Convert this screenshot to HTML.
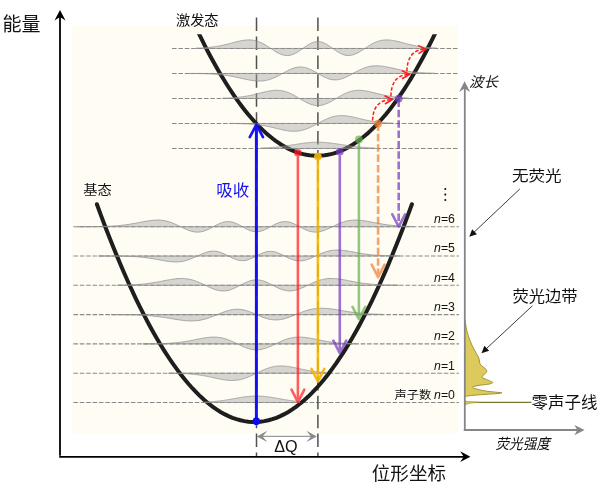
<!DOCTYPE html>
<html><head><meta charset="utf-8"><style>
html,body{margin:0;padding:0;background:#fff;}
body{width:605px;height:489px;overflow:hidden;}
svg{display:block;will-change:transform;}
</style></head><body>
<svg width="605" height="489" viewBox="0 0 605 489">
<rect x="72" y="25.5" width="386.2" height="408.3" fill="#fefcf3"/>
<line x1="73.4" y1="402.5" x2="459" y2="402.5" stroke="#8a8a8a" stroke-width="1.1" stroke-dasharray="4.6 1.785" fill="none"/>
<line x1="73.4" y1="373.2" x2="459" y2="373.2" stroke="#8a8a8a" stroke-width="1.1" stroke-dasharray="4.6 1.785" fill="none"/>
<line x1="73.4" y1="343.9" x2="459" y2="343.9" stroke="#8a8a8a" stroke-width="1.1" stroke-dasharray="4.6 1.785" fill="none"/>
<line x1="73.4" y1="314.6" x2="459" y2="314.6" stroke="#8a8a8a" stroke-width="1.1" stroke-dasharray="4.6 1.785" fill="none"/>
<line x1="73.4" y1="285.3" x2="459" y2="285.3" stroke="#8a8a8a" stroke-width="1.1" stroke-dasharray="4.6 1.785" fill="none"/>
<line x1="73.4" y1="256" x2="459" y2="256" stroke="#8a8a8a" stroke-width="1.1" stroke-dasharray="4.6 1.785" fill="none"/>
<line x1="73.4" y1="226.7" x2="459" y2="226.7" stroke="#8a8a8a" stroke-width="1.1" stroke-dasharray="4.6 1.785" fill="none"/>
<line x1="172" y1="148.45" x2="459" y2="148.45" stroke="#8a8a8a" stroke-width="1.1" stroke-dasharray="4.6 1.785" fill="none"/>
<line x1="172" y1="123.45" x2="459" y2="123.45" stroke="#8a8a8a" stroke-width="1.1" stroke-dasharray="4.6 1.785" fill="none"/>
<line x1="172" y1="98.45" x2="459" y2="98.45" stroke="#8a8a8a" stroke-width="1.1" stroke-dasharray="4.6 1.785" fill="none"/>
<line x1="172" y1="73.45" x2="459" y2="73.45" stroke="#8a8a8a" stroke-width="1.1" stroke-dasharray="4.6 1.785" fill="none"/>
<line x1="172" y1="48.45" x2="459" y2="48.45" stroke="#8a8a8a" stroke-width="1.1" stroke-dasharray="4.6 1.785" fill="none"/>
<line x1="256.5" y1="17.6" x2="256.5" y2="456" stroke="#505050" stroke-width="1.5" stroke-dasharray="13.5 5.41" fill="none"/>
<line x1="317.9" y1="17.6" x2="317.9" y2="456" stroke="#505050" stroke-width="1.5" stroke-dasharray="13.5 5.41" fill="none"/>
<defs><clipPath id="ce"><rect x="0" y="34.2" width="605" height="400"/></clipPath></defs>
<path d="M196,27.54 L199.06,33.96 L202.13,40.2 L205.19,46.29 L208.25,52.21 L211.32,57.96 L214.38,63.55 L217.44,68.97 L220.51,74.24 L223.57,79.33 L226.63,84.26 L229.7,89.03 L232.76,93.63 L235.82,98.07 L238.89,102.35 L241.95,106.46 L245.01,110.4 L248.08,114.19 L251.14,117.8 L254.2,121.25 L257.27,124.54 L260.33,127.67 L263.39,130.63 L266.46,133.42 L269.52,136.05 L272.58,138.52 L275.65,140.82 L278.71,142.96 L281.77,144.93 L284.84,146.74 L287.9,148.38 L290.96,149.86 L294.03,151.18 L297.09,152.33 L300.15,153.31 L303.22,154.14 L306.28,154.79 L309.34,155.29 L312.41,155.62 L315.47,155.78 L318.53,155.78 L321.59,155.62 L324.66,155.29 L327.72,154.79 L330.78,154.14 L333.85,153.31 L336.91,152.33 L339.97,151.18 L343.04,149.86 L346.1,148.38 L349.16,146.74 L352.23,144.93 L355.29,142.96 L358.35,140.82 L361.42,138.52 L364.48,136.05 L367.54,133.42 L370.61,130.63 L373.67,127.67 L376.73,124.54 L379.8,121.25 L382.86,117.8 L385.92,114.19 L388.99,110.4 L392.05,106.46 L395.11,102.35 L398.18,98.07 L401.24,93.63 L404.3,89.03 L407.37,84.26 L410.43,79.33 L413.49,74.24 L416.56,68.97 L419.62,63.55 L422.68,57.96 L425.75,52.21 L428.81,46.29 L431.87,40.2 L434.94,33.96 L438,27.54" stroke="#1e1e1e" stroke-width="4" fill="none" clip-path="url(#ce)"/>
<path d="M96.9,204.2 L100.89,215.09 L104.87,225.7 L108.86,236.03 L112.85,246.08 L116.84,255.85 L120.82,265.34 L124.81,274.56 L128.8,283.49 L132.79,292.14 L136.77,300.52 L140.76,308.62 L144.75,316.43 L148.74,323.97 L152.72,331.23 L156.71,338.21 L160.7,344.91 L164.68,351.33 L168.67,357.47 L172.66,363.34 L176.65,368.92 L180.63,374.22 L184.62,379.25 L188.61,384 L192.6,388.46 L196.58,392.65 L200.57,396.56 L204.56,400.19 L208.55,403.54 L212.53,406.61 L216.52,409.4 L220.51,411.91 L224.49,414.15 L228.48,416.1 L232.47,417.78 L236.46,419.17 L240.44,420.29 L244.43,421.13 L248.42,421.69 L252.41,421.97 L256.39,421.97 L260.38,421.69 L264.37,421.13 L268.36,420.29 L272.34,419.17 L276.33,417.78 L280.32,416.1 L284.31,414.15 L288.29,411.91 L292.28,409.4 L296.27,406.61 L300.25,403.54 L304.24,400.19 L308.23,396.56 L312.22,392.65 L316.2,388.46 L320.19,384 L324.18,379.25 L328.17,374.22 L332.15,368.92 L336.14,363.34 L340.13,357.47 L344.12,351.33 L348.1,344.91 L352.09,338.21 L356.08,331.23 L360.06,323.97 L364.05,316.43 L368.04,308.62 L372.03,300.52 L376.01,292.14 L380,283.49 L383.99,274.56 L387.98,265.34 L391.96,255.85 L395.95,246.08 L399.94,236.03 L403.93,225.7 L407.91,215.09 L411.9,204.2" stroke="#1e1e1e" stroke-width="4" fill="none" stroke-linecap="round"/>
<path d="M204,402.12 L204.37,402.11 L204.74,402.09 L205.11,402.08 L205.48,402.06 L205.85,402.04 L206.22,402.02 L206.59,402 L206.96,401.99 L207.33,401.97 L207.7,401.95 L208.07,401.92 L208.44,401.9 L208.81,401.88 L209.18,401.86 L209.55,401.83 L209.92,401.81 L210.29,401.78 L210.66,401.76 L211.03,401.73 L211.4,401.71 L211.77,401.68 L212.14,401.65 L212.51,401.62 L212.88,401.59 L213.25,401.56 L213.62,401.53 L213.99,401.5 L214.36,401.46 L214.73,401.43 L215.1,401.39 L215.47,401.36 L215.84,401.32 L216.21,401.29 L216.58,401.25 L216.95,401.21 L217.32,401.17 L217.69,401.13 L218.06,401.09 L218.43,401.05 L218.8,401 L219.17,400.96 L219.54,400.92 L219.91,400.87 L220.27,400.83 L220.64,400.78 L221.01,400.73 L221.38,400.68 L221.75,400.63 L222.12,400.58 L222.49,400.53 L222.86,400.48 L223.23,400.43 L223.6,400.38 L223.97,400.32 L224.34,400.27 L224.71,400.21 L225.08,400.16 L225.45,400.1 L225.82,400.04 L226.19,399.98 L226.56,399.93 L226.93,399.87 L227.3,399.81 L227.67,399.75 L228.04,399.69 L228.41,399.62 L228.78,399.56 L229.15,399.5 L229.52,399.44 L229.89,399.37 L230.26,399.31 L230.63,399.25 L231,399.18 L231.37,399.12 L231.74,399.05 L232.11,398.99 L232.48,398.92 L232.85,398.85 L233.22,398.79 L233.59,398.72 L233.96,398.66 L234.33,398.59 L234.7,398.52 L235.07,398.46 L235.44,398.39 L235.81,398.32 L236.18,398.26 L236.55,398.19 L236.92,398.13 L237.29,398.06 L237.66,398 L238.03,397.93 L238.4,397.87 L238.77,397.8 L239.14,397.74 L239.51,397.68 L239.88,397.62 L240.25,397.55 L240.62,397.49 L240.99,397.43 L241.36,397.37 L241.73,397.31 L242.1,397.26 L242.47,397.2 L242.84,397.14 L243.21,397.09 L243.58,397.03 L243.95,396.98 L244.32,396.93 L244.69,396.87 L245.06,396.82 L245.43,396.78 L245.8,396.73 L246.17,396.68 L246.54,396.64 L246.91,396.59 L247.28,396.55 L247.65,396.51 L248.02,396.47 L248.39,396.43 L248.76,396.39 L249.13,396.36 L249.5,396.32 L249.87,396.29 L250.24,396.26 L250.61,396.23 L250.98,396.2 L251.35,396.18 L251.72,396.15 L252.08,396.13 L252.45,396.11 L252.82,396.09 L253.19,396.08 L253.56,396.06 L253.93,396.05 L254.3,396.04 L254.67,396.03 L255.04,396.02 L255.41,396.01 L255.78,396.01 L256.15,396 L256.52,396 L256.89,396 L257.26,396.01 L257.63,396.01 L258,396.02 L258.37,396.03 L258.74,396.04 L259.11,396.05 L259.48,396.06 L259.85,396.08 L260.22,396.1 L260.59,396.11 L260.96,396.14 L261.33,396.16 L261.7,396.18 L262.07,396.21 L262.44,396.24 L262.81,396.26 L263.18,396.3 L263.55,396.33 L263.92,396.36 L264.29,396.4 L264.66,396.43 L265.03,396.47 L265.4,396.51 L265.77,396.55 L266.14,396.6 L266.51,396.64 L266.88,396.69 L267.25,396.73 L267.62,396.78 L267.99,396.83 L268.36,396.88 L268.73,396.93 L269.1,396.99 L269.47,397.04 L269.84,397.09 L270.21,397.15 L270.58,397.21 L270.95,397.26 L271.32,397.32 L271.69,397.38 L272.06,397.44 L272.43,397.5 L272.8,397.56 L273.17,397.62 L273.54,397.69 L273.91,397.75 L274.28,397.81 L274.65,397.88 L275.02,397.94 L275.39,398.01 L275.76,398.07 L276.13,398.14 L276.5,398.2 L276.87,398.27 L277.24,398.33 L277.61,398.4 L277.98,398.47 L278.35,398.53 L278.72,398.6 L279.09,398.66 L279.46,398.73 L279.83,398.8 L280.2,398.86 L280.57,398.93 L280.94,398.99 L281.31,399.06 L281.68,399.12 L282.05,399.19 L282.42,399.25 L282.79,399.32 L283.16,399.38 L283.53,399.44 L283.89,399.51 L284.26,399.57 L284.63,399.63 L285,399.69 L285.37,399.75 L285.74,399.81 L286.11,399.87 L286.48,399.93 L286.85,399.99 L287.22,400.05 L287.59,400.11 L287.96,400.16 L288.33,400.22 L288.7,400.27 L289.07,400.33 L289.44,400.38 L289.81,400.44 L290.18,400.49 L290.55,400.54 L290.92,400.59 L291.29,400.64 L291.66,400.69 L292.03,400.74 L292.4,400.78 L292.77,400.83 L293.14,400.88 L293.51,400.92 L293.88,400.97 L294.25,401.01 L294.62,401.05 L294.99,401.09 L295.36,401.13 L295.73,401.18 L296.1,401.21 L296.47,401.25 L296.84,401.29 L297.21,401.33 L297.58,401.36 L297.95,401.4 L298.32,401.43 L298.69,401.47 L299.06,401.5 L299.43,401.53 L299.8,401.56 L299.8,402.5 L204,402.5 Z" fill="#a0a0a0" fill-opacity="0.42" stroke="#8c8c8c" stroke-opacity="0.8" stroke-width="0.9"/>
<path d="M168.5,373.27 L169.11,373.27 L169.72,373.28 L170.33,373.29 L170.94,373.29 L171.56,373.3 L172.17,373.31 L172.78,373.32 L173.39,373.33 L174,373.34 L174.61,373.35 L175.22,373.36 L175.83,373.37 L176.45,373.39 L177.06,373.4 L177.67,373.42 L178.28,373.43 L178.89,373.45 L179.5,373.47 L180.11,373.49 L180.72,373.51 L181.34,373.53 L181.95,373.56 L182.56,373.58 L183.17,373.61 L183.78,373.64 L184.39,373.66 L185,373.7 L185.61,373.73 L186.22,373.76 L186.84,373.8 L187.45,373.84 L188.06,373.88 L188.67,373.92 L189.28,373.96 L189.89,374.01 L190.5,374.06 L191.11,374.11 L191.73,374.16 L192.34,374.22 L192.95,374.28 L193.56,374.34 L194.17,374.4 L194.78,374.47 L195.39,374.53 L196,374.61 L196.62,374.68 L197.23,374.76 L197.84,374.84 L198.45,374.92 L199.06,375 L199.67,375.09 L200.28,375.18 L200.89,375.27 L201.5,375.37 L202.12,375.47 L202.73,375.57 L203.34,375.67 L203.95,375.78 L204.56,375.89 L205.17,376 L205.78,376.12 L206.39,376.23 L207.01,376.35 L207.62,376.47 L208.23,376.6 L208.84,376.72 L209.45,376.85 L210.06,376.97 L210.67,377.1 L211.28,377.23 L211.89,377.37 L212.51,377.5 L213.12,377.63 L213.73,377.77 L214.34,377.9 L214.95,378.03 L215.56,378.17 L216.17,378.3 L216.78,378.43 L217.4,378.56 L218.01,378.69 L218.62,378.82 L219.23,378.94 L219.84,379.06 L220.45,379.18 L221.06,379.3 L221.67,379.41 L222.29,379.52 L222.9,379.63 L223.51,379.73 L224.12,379.82 L224.73,379.91 L225.34,380 L225.95,380.08 L226.56,380.15 L227.17,380.22 L227.79,380.28 L228.4,380.33 L229.01,380.38 L229.62,380.41 L230.23,380.44 L230.84,380.46 L231.45,380.48 L232.06,380.48 L232.68,380.47 L233.29,380.46 L233.9,380.44 L234.51,380.4 L235.12,380.36 L235.73,380.3 L236.34,380.24 L236.95,380.17 L237.57,380.08 L238.18,379.99 L238.79,379.88 L239.4,379.77 L240.01,379.64 L240.62,379.51 L241.23,379.36 L241.84,379.2 L242.45,379.04 L243.07,378.86 L243.68,378.68 L244.29,378.48 L244.9,378.28 L245.51,378.07 L246.12,377.85 L246.73,377.62 L247.34,377.38 L247.96,377.14 L248.57,376.89 L249.18,376.63 L249.79,376.37 L250.4,376.1 L251.01,375.82 L251.62,375.54 L252.23,375.26 L252.85,374.97 L253.46,374.68 L254.07,374.39 L254.68,374.09 L255.29,373.79 L255.9,373.49 L256.51,373.19 L257.12,372.89 L257.73,372.6 L258.35,372.3 L258.96,372 L259.57,371.71 L260.18,371.42 L260.79,371.13 L261.4,370.85 L262.01,370.57 L262.62,370.29 L263.24,370.02 L263.85,369.76 L264.46,369.5 L265.07,369.25 L265.68,369.01 L266.29,368.77 L266.9,368.54 L267.51,368.32 L268.13,368.11 L268.74,367.91 L269.35,367.71 L269.96,367.53 L270.57,367.35 L271.18,367.19 L271.79,367.03 L272.4,366.89 L273.01,366.75 L273.63,366.63 L274.24,366.51 L274.85,366.41 L275.46,366.31 L276.07,366.23 L276.68,366.16 L277.29,366.09 L277.9,366.04 L278.52,366 L279.13,365.96 L279.74,365.94 L280.35,365.92 L280.96,365.92 L281.57,365.92 L282.18,365.94 L282.79,365.96 L283.41,365.99 L284.02,366.02 L284.63,366.07 L285.24,366.12 L285.85,366.18 L286.46,366.25 L287.07,366.32 L287.68,366.4 L288.29,366.49 L288.91,366.58 L289.52,366.68 L290.13,366.78 L290.74,366.88 L291.35,366.99 L291.96,367.11 L292.57,367.22 L293.18,367.34 L293.8,367.46 L294.41,367.59 L295.02,367.72 L295.63,367.85 L296.24,367.98 L296.85,368.11 L297.46,368.24 L298.07,368.37 L298.68,368.51 L299.3,368.64 L299.91,368.77 L300.52,368.91 L301.13,369.04 L301.74,369.17 L302.35,369.3 L302.96,369.43 L303.57,369.56 L304.19,369.69 L304.8,369.81 L305.41,369.93 L306.02,370.05 L306.63,370.17 L307.24,370.29 L307.85,370.4 L308.46,370.51 L309.08,370.62 L309.69,370.73 L310.3,370.83 L310.91,370.94 L311.52,371.03 L312.13,371.13 L312.74,371.22 L313.35,371.31 L313.96,371.4 L314.58,371.49 L315.19,371.57 L315.8,371.65 L316.41,371.72 L317.02,371.8 L317.63,371.87 L318.24,371.94 L318.85,372 L319.47,372.07 L320.08,372.13 L320.69,372.18 L321.3,372.24 L321.91,372.29 L322.52,372.34 L323.13,372.39 L323.74,372.44 L324.36,372.48 L324.97,372.52 L325.58,372.56 L326.19,372.6 L326.8,372.64 L326.8,373.2 L168.5,373.2 Z" fill="#a0a0a0" fill-opacity="0.42" stroke="#8c8c8c" stroke-opacity="0.8" stroke-width="0.9"/>
<path d="M142.8,343.87 L143.62,343.87 L144.44,343.86 L145.26,343.86 L146.08,343.85 L146.91,343.85 L147.73,343.84 L148.55,343.84 L149.37,343.83 L150.19,343.82 L151.01,343.81 L151.83,343.81 L152.65,343.8 L153.48,343.78 L154.3,343.77 L155.12,343.76 L155.94,343.75 L156.76,343.73 L157.58,343.71 L158.4,343.69 L159.22,343.67 L160.05,343.65 L160.87,343.63 L161.69,343.6 L162.51,343.58 L163.33,343.55 L164.15,343.52 L164.97,343.48 L165.79,343.45 L166.62,343.41 L167.44,343.36 L168.26,343.32 L169.08,343.27 L169.9,343.22 L170.72,343.17 L171.54,343.11 L172.36,343.05 L173.19,342.98 L174.01,342.91 L174.83,342.84 L175.65,342.76 L176.47,342.68 L177.29,342.6 L178.11,342.51 L178.93,342.41 L179.76,342.31 L180.58,342.21 L181.4,342.1 L182.22,341.99 L183.04,341.87 L183.86,341.75 L184.68,341.62 L185.5,341.49 L186.33,341.36 L187.15,341.22 L187.97,341.08 L188.79,340.93 L189.61,340.78 L190.43,340.63 L191.25,340.47 L192.07,340.31 L192.9,340.15 L193.72,339.99 L194.54,339.83 L195.36,339.66 L196.18,339.49 L197,339.33 L197.82,339.16 L198.64,339 L199.47,338.84 L200.29,338.68 L201.11,338.52 L201.93,338.37 L202.75,338.22 L203.57,338.08 L204.39,337.94 L205.21,337.81 L206.04,337.69 L206.86,337.58 L207.68,337.48 L208.5,337.38 L209.32,337.3 L210.14,337.23 L210.96,337.17 L211.78,337.13 L212.61,337.1 L213.43,337.08 L214.25,337.09 L215.07,337.1 L215.89,337.13 L216.71,337.19 L217.53,337.25 L218.35,337.34 L219.17,337.44 L220,337.57 L220.82,337.71 L221.64,337.87 L222.46,338.05 L223.28,338.24 L224.1,338.46 L224.92,338.69 L225.74,338.94 L226.57,339.21 L227.39,339.49 L228.21,339.79 L229.03,340.11 L229.85,340.43 L230.67,340.78 L231.49,341.13 L232.31,341.49 L233.14,341.86 L233.96,342.25 L234.78,342.63 L235.6,343.03 L236.42,343.42 L237.24,343.82 L238.06,344.22 L238.88,344.61 L239.71,345.01 L240.53,345.4 L241.35,345.78 L242.17,346.16 L242.99,346.52 L243.81,346.87 L244.63,347.21 L245.45,347.54 L246.28,347.85 L247.1,348.14 L247.92,348.41 L248.74,348.66 L249.56,348.89 L250.38,349.1 L251.2,349.29 L252.02,349.44 L252.85,349.58 L253.67,349.69 L254.49,349.77 L255.31,349.82 L256.13,349.85 L256.95,349.84 L257.77,349.82 L258.59,349.76 L259.42,349.68 L260.24,349.57 L261.06,349.43 L261.88,349.27 L262.7,349.08 L263.52,348.87 L264.34,348.64 L265.16,348.39 L265.99,348.11 L266.81,347.82 L267.63,347.51 L268.45,347.18 L269.27,346.84 L270.09,346.48 L270.91,346.12 L271.73,345.74 L272.56,345.36 L273.38,344.97 L274.2,344.58 L275.02,344.18 L275.84,343.78 L276.66,343.38 L277.48,342.99 L278.3,342.59 L279.13,342.21 L279.95,341.83 L280.77,341.45 L281.59,341.09 L282.41,340.74 L283.23,340.4 L284.05,340.07 L284.87,339.76 L285.69,339.46 L286.52,339.18 L287.34,338.91 L288.16,338.67 L288.98,338.43 L289.8,338.22 L290.62,338.03 L291.44,337.85 L292.26,337.69 L293.09,337.55 L293.91,337.43 L294.73,337.33 L295.55,337.25 L296.37,337.18 L297.19,337.13 L298.01,337.1 L298.83,337.08 L299.66,337.09 L300.48,337.1 L301.3,337.13 L302.12,337.18 L302.94,337.24 L303.76,337.31 L304.58,337.39 L305.4,337.48 L306.23,337.59 L307.05,337.7 L307.87,337.82 L308.69,337.95 L309.51,338.09 L310.33,338.23 L311.15,338.38 L311.97,338.54 L312.8,338.69 L313.62,338.85 L314.44,339.02 L315.26,339.18 L316.08,339.35 L316.9,339.51 L317.72,339.68 L318.54,339.84 L319.37,340.01 L320.19,340.17 L321.01,340.33 L321.83,340.49 L322.65,340.64 L323.47,340.8 L324.29,340.95 L325.11,341.09 L325.94,341.24 L326.76,341.37 L327.58,341.51 L328.4,341.64 L329.22,341.76 L330.04,341.88 L330.86,342 L331.68,342.11 L332.51,342.22 L333.33,342.32 L334.15,342.42 L334.97,342.51 L335.79,342.6 L336.61,342.69 L337.43,342.77 L338.25,342.85 L339.08,342.92 L339.9,342.99 L340.72,343.05 L341.54,343.11 L342.36,343.17 L343.18,343.23 L344,343.28 L344.82,343.32 L345.65,343.37 L346.47,343.41 L347.29,343.45 L348.11,343.49 L348.93,343.52 L349.75,343.55 L350.57,343.58 L351.39,343.61 L352.22,343.63 L353.04,343.66 L353.86,343.68 L354.68,343.7 L355.5,343.71 L355.5,343.9 L142.8,343.9 Z" fill="#a0a0a0" fill-opacity="0.42" stroke="#8c8c8c" stroke-opacity="0.8" stroke-width="0.9"/>
<path d="M111,314.63 L112.05,314.63 L113.09,314.63 L114.14,314.64 L115.19,314.64 L116.24,314.65 L117.28,314.66 L118.33,314.66 L119.38,314.67 L120.43,314.68 L121.47,314.69 L122.52,314.7 L123.57,314.71 L124.62,314.72 L125.66,314.74 L126.71,314.75 L127.76,314.77 L128.81,314.79 L129.85,314.81 L130.9,314.83 L131.95,314.86 L133,314.88 L134.04,314.91 L135.09,314.94 L136.14,314.98 L137.19,315.01 L138.23,315.06 L139.28,315.1 L140.33,315.15 L141.38,315.2 L142.42,315.25 L143.47,315.31 L144.52,315.37 L145.57,315.44 L146.61,315.51 L147.66,315.59 L148.71,315.67 L149.76,315.75 L150.8,315.84 L151.85,315.94 L152.9,316.04 L153.95,316.15 L154.99,316.26 L156.04,316.38 L157.09,316.5 L158.14,316.63 L159.18,316.77 L160.23,316.9 L161.28,317.05 L162.33,317.2 L163.37,317.35 L164.42,317.51 L165.47,317.67 L166.52,317.84 L167.56,318.01 L168.61,318.18 L169.66,318.35 L170.71,318.53 L171.75,318.7 L172.8,318.88 L173.85,319.05 L174.9,319.23 L175.94,319.4 L176.99,319.57 L178.04,319.73 L179.09,319.89 L180.13,320.04 L181.18,320.18 L182.23,320.32 L183.28,320.44 L184.32,320.56 L185.37,320.66 L186.42,320.75 L187.47,320.82 L188.51,320.88 L189.56,320.92 L190.61,320.94 L191.66,320.95 L192.7,320.93 L193.75,320.9 L194.8,320.84 L195.85,320.76 L196.89,320.66 L197.94,320.54 L198.99,320.39 L200.04,320.22 L201.08,320.03 L202.13,319.81 L203.18,319.57 L204.23,319.31 L205.27,319.02 L206.32,318.72 L207.37,318.39 L208.42,318.05 L209.46,317.69 L210.51,317.31 L211.56,316.92 L212.61,316.51 L213.65,316.1 L214.7,315.67 L215.75,315.25 L216.8,314.81 L217.84,314.38 L218.89,313.94 L219.94,313.52 L220.99,313.09 L222.03,312.68 L223.08,312.28 L224.13,311.89 L225.18,311.52 L226.22,311.17 L227.27,310.85 L228.32,310.54 L229.37,310.27 L230.41,310.02 L231.46,309.81 L232.51,309.63 L233.56,309.48 L234.6,309.37 L235.65,309.29 L236.7,309.25 L237.75,309.25 L238.79,309.29 L239.84,309.37 L240.89,309.48 L241.94,309.63 L242.98,309.82 L244.03,310.04 L245.08,310.29 L246.13,310.58 L247.17,310.9 L248.22,311.24 L249.27,311.61 L250.32,312 L251.36,312.41 L252.41,312.84 L253.46,313.28 L254.51,313.73 L255.55,314.18 L256.6,314.64 L257.65,315.1 L258.7,315.56 L259.74,316.01 L260.79,316.44 L261.84,316.87 L262.89,317.28 L263.93,317.66 L264.98,318.03 L266.03,318.37 L267.08,318.68 L268.12,318.96 L269.17,319.21 L270.22,319.42 L271.27,319.6 L272.31,319.74 L273.36,319.85 L274.41,319.92 L275.46,319.95 L276.5,319.94 L277.55,319.9 L278.6,319.81 L279.65,319.69 L280.69,319.54 L281.74,319.35 L282.79,319.13 L283.84,318.88 L284.88,318.6 L285.93,318.29 L286.98,317.96 L288.03,317.61 L289.07,317.23 L290.12,316.84 L291.17,316.44 L292.22,316.03 L293.26,315.6 L294.31,315.17 L295.36,314.74 L296.41,314.3 L297.45,313.87 L298.5,313.44 L299.55,313.02 L300.6,312.61 L301.64,312.21 L302.69,311.82 L303.74,311.44 L304.79,311.08 L305.83,310.74 L306.88,310.42 L307.93,310.12 L308.98,309.84 L310.02,309.58 L311.07,309.35 L312.12,309.13 L313.17,308.94 L314.21,308.78 L315.26,308.63 L316.31,308.52 L317.36,308.42 L318.4,308.34 L319.45,308.29 L320.5,308.26 L321.55,308.25 L322.59,308.26 L323.64,308.29 L324.69,308.33 L325.74,308.39 L326.78,308.47 L327.83,308.56 L328.88,308.67 L329.93,308.78 L330.97,308.91 L332.02,309.05 L333.07,309.19 L334.12,309.34 L335.16,309.5 L336.21,309.67 L337.26,309.83 L338.31,310.01 L339.35,310.18 L340.4,310.36 L341.45,310.53 L342.5,310.71 L343.54,310.88 L344.59,311.06 L345.64,311.23 L346.69,311.39 L347.73,311.56 L348.78,311.72 L349.83,311.88 L350.88,312.03 L351.92,312.18 L352.97,312.32 L354.02,312.46 L355.07,312.59 L356.11,312.72 L357.16,312.84 L358.21,312.96 L359.26,313.07 L360.3,313.18 L361.35,313.28 L362.4,313.37 L363.45,313.46 L364.49,313.55 L365.54,313.63 L366.59,313.7 L367.64,313.77 L368.68,313.84 L369.73,313.9 L370.78,313.96 L371.83,314.01 L372.87,314.06 L373.92,314.11 L374.97,314.15 L376.02,314.19 L377.06,314.23 L378.11,314.26 L379.16,314.29 L380.21,314.32 L381.25,314.35 L382.3,314.37 L382.3,314.6 L111,314.6 Z" fill="#a0a0a0" fill-opacity="0.42" stroke="#8c8c8c" stroke-opacity="0.8" stroke-width="0.9"/>
<path d="M117.3,285.19 L118.39,285.18 L119.47,285.16 L120.56,285.15 L121.64,285.13 L122.73,285.11 L123.81,285.08 L124.9,285.06 L125.99,285.03 L127.07,285 L128.16,284.96 L129.24,284.93 L130.33,284.88 L131.41,284.84 L132.5,284.79 L133.59,284.73 L134.67,284.68 L135.76,284.61 L136.84,284.54 L137.93,284.47 L139.01,284.39 L140.1,284.3 L141.19,284.21 L142.27,284.11 L143.36,284.01 L144.44,283.9 L145.53,283.78 L146.61,283.65 L147.7,283.52 L148.79,283.38 L149.87,283.23 L150.96,283.07 L152.04,282.91 L153.13,282.74 L154.21,282.57 L155.3,282.38 L156.39,282.2 L157.47,282 L158.56,281.8 L159.64,281.6 L160.73,281.4 L161.81,281.19 L162.9,280.98 L163.99,280.77 L165.07,280.56 L166.16,280.35 L167.24,280.14 L168.33,279.94 L169.41,279.75 L170.5,279.56 L171.59,279.38 L172.67,279.21 L173.76,279.06 L174.84,278.92 L175.93,278.79 L177.01,278.69 L178.1,278.6 L179.19,278.54 L180.27,278.49 L181.36,278.48 L182.44,278.49 L183.53,278.52 L184.61,278.59 L185.7,278.68 L186.79,278.81 L187.87,278.96 L188.96,279.15 L190.04,279.37 L191.13,279.63 L192.21,279.91 L193.3,280.22 L194.39,280.57 L195.47,280.94 L196.56,281.35 L197.64,281.77 L198.73,282.22 L199.81,282.7 L200.9,283.19 L201.99,283.69 L203.07,284.21 L204.16,284.73 L205.24,285.26 L206.33,285.79 L207.41,286.31 L208.5,286.83 L209.59,287.33 L210.67,287.82 L211.76,288.29 L212.84,288.73 L213.93,289.14 L215.01,289.52 L216.1,289.86 L217.19,290.16 L218.27,290.42 L219.36,290.63 L220.44,290.79 L221.53,290.89 L222.61,290.95 L223.7,290.95 L224.79,290.9 L225.87,290.79 L226.96,290.63 L228.04,290.41 L229.13,290.15 L230.21,289.83 L231.3,289.47 L232.39,289.07 L233.47,288.63 L234.56,288.15 L235.64,287.65 L236.73,287.12 L237.81,286.57 L238.9,286 L239.99,285.43 L241.07,284.86 L242.16,284.29 L243.24,283.74 L244.33,283.2 L245.41,282.68 L246.5,282.19 L247.59,281.74 L248.67,281.32 L249.76,280.95 L250.84,280.63 L251.93,280.35 L253.01,280.13 L254.1,279.97 L255.19,279.87 L256.27,279.83 L257.36,279.85 L258.44,279.92 L259.53,280.06 L260.61,280.25 L261.7,280.5 L262.79,280.81 L263.87,281.16 L264.96,281.56 L266.04,282 L267.13,282.47 L268.21,282.98 L269.3,283.51 L270.39,284.06 L271.47,284.62 L272.56,285.19 L273.64,285.76 L274.73,286.33 L275.81,286.89 L276.9,287.43 L277.99,287.94 L279.07,288.43 L280.16,288.89 L281.24,289.31 L282.33,289.69 L283.41,290.02 L284.5,290.31 L285.59,290.54 L286.67,290.73 L287.76,290.86 L288.84,290.94 L289.93,290.96 L291.01,290.92 L292.1,290.84 L293.19,290.7 L294.27,290.51 L295.36,290.27 L296.44,289.99 L297.53,289.67 L298.61,289.3 L299.7,288.91 L300.79,288.48 L301.87,288.02 L302.96,287.54 L304.04,287.04 L305.13,286.53 L306.21,286.01 L307.3,285.48 L308.39,284.95 L309.47,284.43 L310.56,283.91 L311.64,283.4 L312.73,282.9 L313.81,282.42 L314.9,281.96 L315.99,281.52 L317.07,281.11 L318.16,280.72 L319.24,280.37 L320.33,280.04 L321.41,279.74 L322.5,279.47 L323.59,279.24 L324.67,279.04 L325.76,278.87 L326.84,278.73 L327.93,278.62 L329.01,278.55 L330.1,278.5 L331.19,278.48 L332.27,278.48 L333.36,278.52 L334.44,278.57 L335.53,278.65 L336.61,278.75 L337.7,278.86 L338.79,279 L339.87,279.15 L340.96,279.31 L342.04,279.48 L343.13,279.67 L344.21,279.86 L345.3,280.06 L346.39,280.26 L347.47,280.47 L348.56,280.68 L349.64,280.89 L350.73,281.1 L351.81,281.31 L352.9,281.52 L353.99,281.72 L355.07,281.92 L356.16,282.12 L357.24,282.31 L358.33,282.49 L359.41,282.67 L360.5,282.84 L361.59,283.01 L362.67,283.16 L363.76,283.32 L364.84,283.46 L365.93,283.6 L367.01,283.72 L368.1,283.85 L369.19,283.96 L370.27,284.07 L371.36,284.17 L372.44,284.27 L373.53,284.35 L374.61,284.44 L375.7,284.51 L376.79,284.58 L377.87,284.65 L378.96,284.71 L380.04,284.77 L381.13,284.82 L382.21,284.87 L383.3,284.91 L384.39,284.95 L385.47,284.98 L386.56,285.02 L387.64,285.05 L388.73,285.07 L389.81,285.1 L390.9,285.12 L391.99,285.14 L393.07,285.16 L394.16,285.17 L395.24,285.19 L396.33,285.2 L397.41,285.21 L398.5,285.22 L398.5,285.3 L117.3,285.3 Z" fill="#a0a0a0" fill-opacity="0.42" stroke="#8c8c8c" stroke-opacity="0.8" stroke-width="0.9"/>
<path d="M98.5,256.01 L99.66,256.01 L100.82,256.01 L101.99,256.01 L103.15,256.01 L104.31,256.02 L105.47,256.02 L106.64,256.02 L107.8,256.03 L108.96,256.03 L110.12,256.04 L111.28,256.05 L112.45,256.05 L113.61,256.06 L114.77,256.07 L115.93,256.08 L117.09,256.1 L118.26,256.11 L119.42,256.13 L120.58,256.15 L121.74,256.17 L122.91,256.19 L124.07,256.22 L125.23,256.25 L126.39,256.28 L127.55,256.32 L128.72,256.36 L129.88,256.41 L131.04,256.46 L132.2,256.51 L133.36,256.57 L134.53,256.64 L135.69,256.72 L136.85,256.8 L138.01,256.89 L139.18,256.98 L140.34,257.08 L141.5,257.2 L142.66,257.32 L143.82,257.44 L144.99,257.58 L146.15,257.73 L147.31,257.88 L148.47,258.04 L149.64,258.21 L150.8,258.39 L151.96,258.58 L153.12,258.77 L154.28,258.97 L155.45,259.18 L156.61,259.39 L157.77,259.6 L158.93,259.81 L160.09,260.03 L161.26,260.24 L162.42,260.46 L163.58,260.66 L164.74,260.86 L165.91,261.05 L167.07,261.23 L168.23,261.4 L169.39,261.55 L170.55,261.68 L171.72,261.79 L172.88,261.87 L174.04,261.93 L175.2,261.96 L176.36,261.96 L177.53,261.92 L178.69,261.85 L179.85,261.75 L181.01,261.61 L182.18,261.42 L183.34,261.2 L184.5,260.94 L185.66,260.65 L186.82,260.31 L187.99,259.94 L189.15,259.53 L190.31,259.1 L191.47,258.63 L192.64,258.14 L193.8,257.63 L194.96,257.1 L196.12,256.56 L197.28,256.01 L198.45,255.47 L199.61,254.93 L200.77,254.4 L201.93,253.89 L203.09,253.4 L204.26,252.95 L205.42,252.54 L206.58,252.16 L207.74,251.84 L208.91,251.57 L210.07,251.36 L211.23,251.21 L212.39,251.13 L213.55,251.11 L214.72,251.16 L215.88,251.28 L217.04,251.46 L218.2,251.71 L219.36,252.03 L220.53,252.4 L221.69,252.83 L222.85,253.3 L224.01,253.82 L225.18,254.37 L226.34,254.94 L227.5,255.53 L228.66,256.13 L229.82,256.72 L230.99,257.31 L232.15,257.87 L233.31,258.4 L234.47,258.9 L235.64,259.34 L236.8,259.73 L237.96,260.06 L239.12,260.33 L240.28,260.51 L241.45,260.63 L242.61,260.66 L243.77,260.62 L244.93,260.5 L246.09,260.3 L247.26,260.03 L248.42,259.68 L249.58,259.28 L250.74,258.82 L251.91,258.31 L253.07,257.76 L254.23,257.18 L255.39,256.58 L256.55,255.97 L257.72,255.36 L258.88,254.76 L260.04,254.19 L261.2,253.64 L262.36,253.14 L263.53,252.68 L264.69,252.28 L265.85,251.95 L267.01,251.68 L268.18,251.49 L269.34,251.37 L270.5,251.34 L271.66,251.38 L272.82,251.5 L273.99,251.7 L275.15,251.96 L276.31,252.3 L277.47,252.7 L278.64,253.15 L279.8,253.64 L280.96,254.18 L282.12,254.75 L283.28,255.33 L284.45,255.93 L285.61,256.53 L286.77,257.11 L287.93,257.69 L289.09,258.23 L290.26,258.74 L291.42,259.21 L292.58,259.64 L293.74,260 L294.91,260.31 L296.07,260.56 L297.23,260.74 L298.39,260.85 L299.55,260.89 L300.72,260.87 L301.88,260.78 L303.04,260.62 L304.2,260.41 L305.36,260.13 L306.53,259.8 L307.69,259.43 L308.85,259.01 L310.01,258.55 L311.18,258.07 L312.34,257.55 L313.5,257.02 L314.66,256.48 L315.82,255.94 L316.99,255.39 L318.15,254.85 L319.31,254.33 L320.47,253.81 L321.64,253.33 L322.8,252.86 L323.96,252.43 L325.12,252.02 L326.28,251.66 L327.45,251.32 L328.61,251.03 L329.77,250.77 L330.93,250.56 L332.09,250.38 L333.26,250.24 L334.42,250.14 L335.58,250.07 L336.74,250.04 L337.91,250.04 L339.07,250.08 L340.23,250.14 L341.39,250.22 L342.55,250.33 L343.72,250.47 L344.88,250.62 L346.04,250.78 L347.2,250.96 L348.36,251.16 L349.53,251.36 L350.69,251.56 L351.85,251.78 L353.01,251.99 L354.18,252.21 L355.34,252.42 L356.5,252.63 L357.66,252.84 L358.82,253.05 L359.99,253.25 L361.15,253.44 L362.31,253.62 L363.47,253.8 L364.64,253.97 L365.8,254.14 L366.96,254.29 L368.12,254.43 L369.28,254.57 L370.45,254.7 L371.61,254.81 L372.77,254.93 L373.93,255.03 L375.09,255.12 L376.26,255.21 L377.42,255.29 L378.58,255.36 L379.74,255.43 L380.91,255.49 L382.07,255.55 L383.23,255.6 L384.39,255.64 L385.55,255.69 L386.72,255.72 L387.88,255.76 L389.04,255.79 L390.2,255.81 L391.36,255.84 L392.53,255.86 L393.69,255.87 L394.85,255.89 L396.01,255.91 L397.18,255.92 L398.34,255.93 L399.5,255.94 L399.5,256 L98.5,256 Z" fill="#a0a0a0" fill-opacity="0.42" stroke="#8c8c8c" stroke-opacity="0.8" stroke-width="0.9"/>
<path d="M77.5,226.69 L78.8,226.68 L80.09,226.68 L81.39,226.68 L82.69,226.67 L83.99,226.67 L85.28,226.66 L86.58,226.66 L87.88,226.65 L89.18,226.64 L90.47,226.63 L91.77,226.62 L93.07,226.61 L94.36,226.6 L95.66,226.58 L96.96,226.56 L98.26,226.54 L99.55,226.51 L100.85,226.49 L102.15,226.46 L103.45,226.42 L104.74,226.38 L106.04,226.34 L107.34,226.29 L108.64,226.24 L109.93,226.18 L111.23,226.11 L112.53,226.03 L113.82,225.95 L115.12,225.87 L116.42,225.77 L117.72,225.66 L119.01,225.55 L120.31,225.42 L121.61,225.29 L122.91,225.14 L124.2,224.99 L125.5,224.82 L126.8,224.65 L128.09,224.46 L129.39,224.27 L130.69,224.06 L131.99,223.85 L133.28,223.62 L134.58,223.39 L135.88,223.15 L137.18,222.91 L138.47,222.66 L139.77,222.41 L141.07,222.16 L142.36,221.92 L143.66,221.67 L144.96,221.43 L146.26,221.2 L147.55,220.99 L148.85,220.79 L150.15,220.6 L151.45,220.44 L152.74,220.3 L154.04,220.19 L155.34,220.11 L156.64,220.07 L157.93,220.06 L159.23,220.09 L160.53,220.16 L161.82,220.28 L163.12,220.44 L164.42,220.65 L165.72,220.91 L167.01,221.21 L168.31,221.56 L169.61,221.96 L170.91,222.4 L172.2,222.88 L173.5,223.4 L174.8,223.96 L176.09,224.54 L177.39,225.15 L178.69,225.77 L179.99,226.41 L181.28,227.05 L182.58,227.68 L183.88,228.31 L185.18,228.91 L186.47,229.48 L187.77,230.02 L189.07,230.51 L190.36,230.94 L191.66,231.32 L192.96,231.63 L194.26,231.87 L195.55,232.03 L196.85,232.11 L198.15,232.1 L199.45,232.01 L200.74,231.84 L202.04,231.58 L203.34,231.25 L204.64,230.84 L205.93,230.36 L207.23,229.81 L208.53,229.21 L209.82,228.57 L211.12,227.9 L212.42,227.21 L213.72,226.5 L215.01,225.8 L216.31,225.12 L217.61,224.46 L218.91,223.85 L220.2,223.29 L221.5,222.8 L222.8,222.38 L224.09,222.04 L225.39,221.79 L226.69,221.64 L227.99,221.58 L229.28,221.63 L230.58,221.78 L231.88,222.03 L233.18,222.36 L234.47,222.79 L235.77,223.3 L237.07,223.87 L238.36,224.5 L239.66,225.18 L240.96,225.89 L242.26,226.61 L243.55,227.34 L244.85,228.05 L246.15,228.74 L247.45,229.38 L248.74,229.97 L250.04,230.49 L251.34,230.93 L252.64,231.28 L253.93,231.53 L255.23,231.69 L256.53,231.74 L257.82,231.68 L259.12,231.52 L260.42,231.26 L261.72,230.91 L263.01,230.47 L264.31,229.94 L265.61,229.35 L266.91,228.71 L268.2,228.02 L269.5,227.31 L270.8,226.58 L272.09,225.86 L273.39,225.15 L274.69,224.47 L275.99,223.85 L277.28,223.27 L278.58,222.77 L279.88,222.35 L281.18,222.01 L282.47,221.77 L283.77,221.63 L285.07,221.58 L286.36,221.64 L287.66,221.8 L288.96,222.05 L290.26,222.39 L291.55,222.82 L292.85,223.31 L294.15,223.88 L295.45,224.49 L296.74,225.15 L298.04,225.83 L299.34,226.53 L300.64,227.24 L301.93,227.93 L303.23,228.6 L304.53,229.24 L305.82,229.84 L307.12,230.38 L308.42,230.86 L309.72,231.26 L311.01,231.6 L312.31,231.85 L313.61,232.02 L314.91,232.11 L316.2,232.11 L317.5,232.02 L318.8,231.86 L320.09,231.62 L321.39,231.31 L322.69,230.93 L323.99,230.49 L325.28,229.99 L326.58,229.46 L327.88,228.88 L329.18,228.28 L330.47,227.66 L331.77,227.02 L333.07,226.38 L334.36,225.75 L335.66,225.12 L336.96,224.52 L338.26,223.93 L339.55,223.38 L340.85,222.86 L342.15,222.38 L343.45,221.94 L344.74,221.55 L346.04,221.2 L347.34,220.9 L348.64,220.64 L349.93,220.43 L351.23,220.27 L352.53,220.16 L353.82,220.09 L355.12,220.06 L356.42,220.07 L357.72,220.12 L359.01,220.2 L360.31,220.31 L361.61,220.45 L362.91,220.61 L364.2,220.79 L365.5,221 L366.8,221.21 L368.09,221.44 L369.39,221.68 L370.69,221.93 L371.99,222.17 L373.28,222.42 L374.58,222.67 L375.88,222.92 L377.18,223.16 L378.47,223.4 L379.77,223.63 L381.07,223.86 L382.36,224.07 L383.66,224.28 L384.96,224.47 L386.26,224.66 L387.55,224.83 L388.85,225 L390.15,225.15 L391.45,225.29 L392.74,225.43 L394.04,225.55 L395.34,225.67 L396.64,225.77 L397.93,225.87 L399.23,225.96 L400.53,226.04 L401.82,226.11 L403.12,226.18 L404.42,226.24 L405.72,226.29 L407.01,226.34 L408.31,226.38 L409.61,226.42 L410.91,226.46 L412.2,226.49 L413.5,226.52 L413.5,226.7 L77.5,226.7 Z" fill="#a0a0a0" fill-opacity="0.42" stroke="#8c8c8c" stroke-opacity="0.8" stroke-width="0.9"/>
<path d="M260.3,148.1 L260.74,148.08 L261.19,148.06 L261.63,148.05 L262.08,148.03 L262.52,148.01 L262.97,147.99 L263.41,147.97 L263.86,147.95 L264.3,147.93 L264.75,147.91 L265.19,147.89 L265.64,147.86 L266.08,147.84 L266.53,147.81 L266.97,147.79 L267.42,147.76 L267.86,147.73 L268.31,147.71 L268.75,147.68 L269.2,147.65 L269.64,147.62 L270.09,147.59 L270.53,147.55 L270.97,147.52 L271.42,147.49 L271.86,147.45 L272.31,147.42 L272.75,147.38 L273.2,147.34 L273.64,147.3 L274.09,147.26 L274.53,147.22 L274.98,147.18 L275.42,147.14 L275.87,147.1 L276.31,147.05 L276.76,147.01 L277.2,146.96 L277.65,146.91 L278.09,146.86 L278.54,146.81 L278.98,146.76 L279.43,146.71 L279.87,146.66 L280.32,146.61 L280.76,146.56 L281.21,146.5 L281.65,146.44 L282.09,146.39 L282.54,146.33 L282.98,146.27 L283.43,146.21 L283.87,146.15 L284.32,146.09 L284.76,146.03 L285.21,145.97 L285.65,145.91 L286.1,145.84 L286.54,145.78 L286.99,145.72 L287.43,145.65 L287.88,145.58 L288.32,145.52 L288.77,145.45 L289.21,145.38 L289.66,145.32 L290.1,145.25 L290.55,145.18 L290.99,145.11 L291.44,145.04 L291.88,144.97 L292.32,144.9 L292.77,144.83 L293.21,144.76 L293.66,144.69 L294.1,144.62 L294.55,144.55 L294.99,144.48 L295.44,144.41 L295.88,144.34 L296.33,144.27 L296.77,144.2 L297.22,144.13 L297.66,144.07 L298.11,144 L298.55,143.93 L299,143.86 L299.44,143.8 L299.89,143.73 L300.33,143.67 L300.78,143.6 L301.22,143.54 L301.67,143.48 L302.11,143.42 L302.55,143.35 L303,143.3 L303.44,143.24 L303.89,143.18 L304.33,143.12 L304.78,143.07 L305.22,143.02 L305.67,142.96 L306.11,142.91 L306.56,142.86 L307,142.82 L307.45,142.77 L307.89,142.72 L308.34,142.68 L308.78,142.64 L309.23,142.6 L309.67,142.56 L310.12,142.53 L310.56,142.49 L311.01,142.46 L311.45,142.43 L311.9,142.4 L312.34,142.37 L312.78,142.35 L313.23,142.33 L313.67,142.31 L314.12,142.29 L314.56,142.27 L315.01,142.26 L315.45,142.25 L315.9,142.24 L316.34,142.23 L316.79,142.22 L317.23,142.22 L317.68,142.22 L318.12,142.22 L318.57,142.22 L319.01,142.22 L319.46,142.23 L319.9,142.24 L320.35,142.25 L320.79,142.26 L321.24,142.28 L321.68,142.3 L322.13,142.32 L322.57,142.34 L323.02,142.36 L323.46,142.39 L323.9,142.41 L324.35,142.44 L324.79,142.47 L325.24,142.51 L325.68,142.54 L326.13,142.58 L326.57,142.62 L327.02,142.66 L327.46,142.7 L327.91,142.74 L328.35,142.79 L328.8,142.84 L329.24,142.89 L329.69,142.94 L330.13,142.99 L330.58,143.04 L331.02,143.09 L331.47,143.15 L331.91,143.21 L332.36,143.26 L332.8,143.32 L333.25,143.38 L333.69,143.44 L334.13,143.5 L334.58,143.57 L335.02,143.63 L335.47,143.7 L335.91,143.76 L336.36,143.83 L336.8,143.89 L337.25,143.96 L337.69,144.03 L338.14,144.1 L338.58,144.16 L339.03,144.23 L339.47,144.3 L339.92,144.37 L340.36,144.44 L340.81,144.51 L341.25,144.58 L341.7,144.65 L342.14,144.72 L342.59,144.79 L343.03,144.86 L343.48,144.93 L343.92,145 L344.36,145.07 L344.81,145.14 L345.25,145.21 L345.7,145.28 L346.14,145.35 L346.59,145.41 L347.03,145.48 L347.48,145.55 L347.92,145.61 L348.37,145.68 L348.81,145.74 L349.26,145.81 L349.7,145.87 L350.15,145.94 L350.59,146 L351.04,146.06 L351.48,146.12 L351.93,146.18 L352.37,146.24 L352.82,146.3 L353.26,146.36 L353.71,146.41 L354.15,146.47 L354.59,146.53 L355.04,146.58 L355.48,146.63 L355.93,146.69 L356.37,146.74 L356.82,146.79 L357.26,146.84 L357.71,146.89 L358.15,146.93 L358.6,146.98 L359.04,147.03 L359.49,147.07 L359.93,147.11 L360.38,147.16 L360.82,147.2 L361.27,147.24 L361.71,147.28 L362.16,147.32 L362.6,147.36 L363.05,147.4 L363.49,147.43 L363.94,147.47 L364.38,147.5 L364.83,147.54 L365.27,147.57 L365.71,147.6 L366.16,147.63 L366.6,147.66 L367.05,147.69 L367.49,147.72 L367.94,147.75 L368.38,147.77 L368.83,147.8 L369.27,147.82 L369.72,147.85 L370.16,147.87 L370.61,147.9 L371.05,147.92 L371.5,147.94 L371.94,147.96 L372.39,147.98 L372.83,148 L373.28,148.02 L373.72,148.04 L374.17,148.05 L374.61,148.07 L375.06,148.09 L375.5,148.1 L375.5,148.45 L260.3,148.45 Z" fill="#a0a0a0" fill-opacity="0.42" stroke="#8c8c8c" stroke-opacity="0.8" stroke-width="0.9"/>
<path d="M229.5,123.5 L230.13,123.5 L230.76,123.51 L231.4,123.51 L232.03,123.52 L232.66,123.53 L233.29,123.53 L233.93,123.54 L234.56,123.55 L235.19,123.56 L235.82,123.57 L236.46,123.58 L237.09,123.59 L237.72,123.6 L238.35,123.61 L238.99,123.63 L239.62,123.64 L240.25,123.66 L240.88,123.68 L241.52,123.69 L242.15,123.71 L242.78,123.73 L243.41,123.76 L244.05,123.78 L244.68,123.81 L245.31,123.83 L245.94,123.86 L246.58,123.89 L247.21,123.92 L247.84,123.96 L248.47,123.99 L249.11,124.03 L249.74,124.07 L250.37,124.11 L251,124.16 L251.64,124.21 L252.27,124.26 L252.9,124.31 L253.53,124.36 L254.16,124.42 L254.8,124.48 L255.43,124.55 L256.06,124.61 L256.69,124.68 L257.33,124.76 L257.96,124.83 L258.59,124.91 L259.22,124.99 L259.86,125.08 L260.49,125.17 L261.12,125.26 L261.75,125.36 L262.39,125.46 L263.02,125.56 L263.65,125.67 L264.28,125.78 L264.92,125.89 L265.55,126.01 L266.18,126.13 L266.81,126.25 L267.45,126.37 L268.08,126.5 L268.71,126.64 L269.34,126.77 L269.98,126.91 L270.61,127.05 L271.24,127.19 L271.87,127.34 L272.51,127.48 L273.14,127.63 L273.77,127.78 L274.4,127.93 L275.04,128.08 L275.67,128.24 L276.3,128.39 L276.93,128.54 L277.56,128.7 L278.2,128.85 L278.83,129 L279.46,129.15 L280.09,129.3 L280.73,129.45 L281.36,129.6 L281.99,129.74 L282.62,129.88 L283.26,130.01 L283.89,130.14 L284.52,130.27 L285.15,130.39 L285.79,130.5 L286.42,130.61 L287.05,130.72 L287.68,130.81 L288.32,130.9 L288.95,130.98 L289.58,131.06 L290.21,131.12 L290.85,131.18 L291.48,131.23 L292.11,131.26 L292.74,131.29 L293.38,131.3 L294.01,131.31 L294.64,131.3 L295.27,131.29 L295.91,131.26 L296.54,131.22 L297.17,131.17 L297.8,131.1 L298.44,131.02 L299.07,130.93 L299.7,130.83 L300.33,130.72 L300.96,130.59 L301.6,130.45 L302.23,130.29 L302.86,130.13 L303.49,129.95 L304.13,129.76 L304.76,129.56 L305.39,129.35 L306.02,129.12 L306.66,128.89 L307.29,128.64 L307.92,128.39 L308.55,128.12 L309.19,127.84 L309.82,127.56 L310.45,127.27 L311.08,126.96 L311.72,126.66 L312.35,126.34 L312.98,126.02 L313.61,125.69 L314.25,125.36 L314.88,125.03 L315.51,124.69 L316.14,124.35 L316.78,124.01 L317.41,123.66 L318.04,123.32 L318.67,122.97 L319.31,122.63 L319.94,122.29 L320.57,121.95 L321.2,121.62 L321.84,121.28 L322.47,120.96 L323.1,120.63 L323.73,120.32 L324.36,120.01 L325,119.71 L325.63,119.41 L326.26,119.12 L326.89,118.85 L327.53,118.58 L328.16,118.32 L328.79,118.07 L329.42,117.83 L330.06,117.6 L330.69,117.39 L331.32,117.18 L331.95,116.99 L332.59,116.81 L333.22,116.64 L333.85,116.49 L334.48,116.34 L335.12,116.21 L335.75,116.1 L336.38,115.99 L337.01,115.9 L337.65,115.82 L338.28,115.75 L338.91,115.69 L339.54,115.65 L340.18,115.62 L340.81,115.6 L341.44,115.59 L342.07,115.59 L342.71,115.61 L343.34,115.63 L343.97,115.66 L344.6,115.71 L345.24,115.76 L345.87,115.83 L346.5,115.9 L347.13,115.98 L347.76,116.06 L348.4,116.16 L349.03,116.26 L349.66,116.37 L350.29,116.48 L350.93,116.6 L351.56,116.73 L352.19,116.86 L352.82,116.99 L353.46,117.13 L354.09,117.27 L354.72,117.41 L355.35,117.56 L355.99,117.71 L356.62,117.86 L357.25,118.01 L357.88,118.17 L358.52,118.32 L359.15,118.47 L359.78,118.63 L360.41,118.78 L361.05,118.93 L361.68,119.08 L362.31,119.23 L362.94,119.38 L363.58,119.53 L364.21,119.67 L364.84,119.82 L365.47,119.96 L366.11,120.1 L366.74,120.23 L367.37,120.37 L368,120.49 L368.64,120.62 L369.27,120.75 L369.9,120.87 L370.53,120.98 L371.16,121.1 L371.8,121.21 L372.43,121.32 L373.06,121.42 L373.69,121.52 L374.33,121.62 L374.96,121.71 L375.59,121.8 L376.22,121.89 L376.86,121.97 L377.49,122.05 L378.12,122.13 L378.75,122.2 L379.39,122.27 L380.02,122.34 L380.65,122.4 L381.28,122.46 L381.92,122.52 L382.55,122.58 L383.18,122.63 L383.81,122.68 L384.45,122.73 L385.08,122.78 L385.71,122.82 L386.34,122.86 L386.98,122.9 L387.61,122.94 L388.24,122.97 L388.87,123 L389.51,123.03 L390.14,123.06 L390.77,123.09 L391.4,123.11 L392.04,123.14 L392.67,123.16 L393.3,123.18 L393.3,123.45 L229.5,123.45 Z" fill="#a0a0a0" fill-opacity="0.42" stroke="#8c8c8c" stroke-opacity="0.8" stroke-width="0.9"/>
<path d="M222.6,98.22 L223.32,98.2 L224.04,98.18 L224.76,98.16 L225.47,98.13 L226.19,98.11 L226.91,98.08 L227.63,98.05 L228.35,98.02 L229.07,97.98 L229.79,97.94 L230.5,97.9 L231.22,97.86 L231.94,97.82 L232.66,97.77 L233.38,97.72 L234.1,97.66 L234.82,97.6 L235.53,97.54 L236.25,97.48 L236.97,97.41 L237.69,97.34 L238.41,97.26 L239.13,97.18 L239.84,97.1 L240.56,97.01 L241.28,96.92 L242,96.83 L242.72,96.72 L243.44,96.62 L244.16,96.51 L244.87,96.4 L245.59,96.28 L246.31,96.16 L247.03,96.03 L247.75,95.9 L248.47,95.76 L249.19,95.62 L249.9,95.48 L250.62,95.33 L251.34,95.18 L252.06,95.02 L252.78,94.86 L253.5,94.7 L254.22,94.53 L254.93,94.36 L255.65,94.19 L256.37,94.01 L257.09,93.83 L257.81,93.66 L258.53,93.48 L259.25,93.3 L259.96,93.12 L260.68,92.94 L261.4,92.76 L262.12,92.58 L262.84,92.4 L263.56,92.23 L264.27,92.06 L264.99,91.89 L265.71,91.73 L266.43,91.57 L267.15,91.42 L267.87,91.27 L268.59,91.13 L269.3,91 L270.02,90.88 L270.74,90.77 L271.46,90.67 L272.18,90.58 L272.9,90.5 L273.62,90.43 L274.33,90.37 L275.05,90.33 L275.77,90.31 L276.49,90.29 L277.21,90.3 L277.93,90.32 L278.65,90.35 L279.36,90.41 L280.08,90.48 L280.8,90.56 L281.52,90.67 L282.24,90.79 L282.96,90.93 L283.68,91.1 L284.39,91.27 L285.11,91.47 L285.83,91.69 L286.55,91.92 L287.27,92.17 L287.99,92.44 L288.71,92.73 L289.42,93.03 L290.14,93.34 L290.86,93.68 L291.58,94.02 L292.3,94.38 L293.02,94.76 L293.73,95.14 L294.45,95.54 L295.17,95.94 L295.89,96.35 L296.61,96.77 L297.33,97.2 L298.05,97.63 L298.76,98.06 L299.48,98.49 L300.2,98.92 L300.92,99.36 L301.64,99.78 L302.36,100.21 L303.08,100.62 L303.79,101.03 L304.51,101.43 L305.23,101.82 L305.95,102.2 L306.67,102.56 L307.39,102.91 L308.11,103.24 L308.82,103.56 L309.54,103.85 L310.26,104.13 L310.98,104.38 L311.7,104.61 L312.42,104.82 L313.14,105 L313.85,105.16 L314.57,105.29 L315.29,105.4 L316.01,105.48 L316.73,105.54 L317.45,105.56 L318.16,105.56 L318.88,105.54 L319.6,105.48 L320.32,105.4 L321.04,105.29 L321.76,105.16 L322.48,105 L323.19,104.82 L323.91,104.61 L324.63,104.38 L325.35,104.12 L326.07,103.85 L326.79,103.55 L327.51,103.24 L328.22,102.91 L328.94,102.56 L329.66,102.19 L330.38,101.82 L331.1,101.43 L331.82,101.03 L332.54,100.62 L333.25,100.2 L333.97,99.78 L334.69,99.35 L335.41,98.92 L336.13,98.48 L336.85,98.05 L337.57,97.62 L338.28,97.19 L339,96.77 L339.72,96.35 L340.44,95.93 L341.16,95.53 L341.88,95.14 L342.59,94.75 L343.31,94.38 L344.03,94.02 L344.75,93.67 L345.47,93.34 L346.19,93.02 L346.91,92.72 L347.62,92.44 L348.34,92.17 L349.06,91.92 L349.78,91.68 L350.5,91.47 L351.22,91.27 L351.94,91.09 L352.65,90.93 L353.37,90.79 L354.09,90.67 L354.81,90.56 L355.53,90.47 L356.25,90.4 L356.97,90.35 L357.68,90.32 L358.4,90.3 L359.12,90.29 L359.84,90.31 L360.56,90.33 L361.28,90.37 L362,90.43 L362.71,90.5 L363.43,90.58 L364.15,90.67 L364.87,90.77 L365.59,90.88 L366.31,91.01 L367.03,91.14 L367.74,91.27 L368.46,91.42 L369.18,91.57 L369.9,91.73 L370.62,91.89 L371.34,92.06 L372.05,92.23 L372.77,92.4 L373.49,92.58 L374.21,92.76 L374.93,92.94 L375.65,93.12 L376.37,93.3 L377.08,93.48 L377.8,93.66 L378.52,93.84 L379.24,94.01 L379.96,94.19 L380.68,94.36 L381.4,94.53 L382.11,94.7 L382.83,94.86 L383.55,95.02 L384.27,95.18 L384.99,95.33 L385.71,95.48 L386.43,95.62 L387.14,95.76 L387.86,95.9 L388.58,96.03 L389.3,96.16 L390.02,96.28 L390.74,96.4 L391.46,96.51 L392.17,96.62 L392.89,96.73 L393.61,96.83 L394.33,96.92 L395.05,97.01 L395.77,97.1 L396.48,97.19 L397.2,97.26 L397.92,97.34 L398.64,97.41 L399.36,97.48 L400.08,97.54 L400.8,97.6 L401.51,97.66 L402.23,97.72 L402.95,97.77 L403.67,97.82 L404.39,97.86 L405.11,97.9 L405.83,97.94 L406.54,97.98 L407.26,98.02 L407.98,98.05 L408.7,98.08 L408.7,98.45 L222.6,98.45 Z" fill="#a0a0a0" fill-opacity="0.42" stroke="#8c8c8c" stroke-opacity="0.8" stroke-width="0.9"/>
<path d="M188.5,73.49 L189.45,73.49 L190.4,73.5 L191.35,73.51 L192.3,73.51 L193.25,73.52 L194.21,73.53 L195.16,73.54 L196.11,73.55 L197.06,73.57 L198.01,73.58 L198.96,73.6 L199.91,73.61 L200.86,73.63 L201.81,73.65 L202.76,73.67 L203.72,73.7 L204.67,73.73 L205.62,73.75 L206.57,73.79 L207.52,73.82 L208.47,73.86 L209.42,73.9 L210.37,73.95 L211.32,74 L212.27,74.05 L213.23,74.11 L214.18,74.17 L215.13,74.23 L216.08,74.3 L217.03,74.38 L217.98,74.46 L218.93,74.55 L219.88,74.64 L220.83,74.74 L221.78,74.84 L222.73,74.96 L223.69,75.07 L224.64,75.2 L225.59,75.33 L226.54,75.46 L227.49,75.61 L228.44,75.76 L229.39,75.92 L230.34,76.08 L231.29,76.25 L232.24,76.42 L233.2,76.61 L234.15,76.79 L235.1,76.99 L236.05,77.18 L237,77.39 L237.95,77.59 L238.9,77.8 L239.85,78.01 L240.8,78.23 L241.75,78.44 L242.71,78.65 L243.66,78.86 L244.61,79.07 L245.56,79.28 L246.51,79.48 L247.46,79.68 L248.41,79.87 L249.36,80.05 L250.31,80.22 L251.26,80.38 L252.21,80.53 L253.17,80.66 L254.12,80.78 L255.07,80.88 L256.02,80.97 L256.97,81.03 L257.92,81.07 L258.87,81.09 L259.82,81.09 L260.77,81.06 L261.72,81.01 L262.68,80.93 L263.63,80.82 L264.58,80.69 L265.53,80.52 L266.48,80.33 L267.43,80.11 L268.38,79.86 L269.33,79.58 L270.28,79.28 L271.23,78.95 L272.18,78.59 L273.14,78.2 L274.09,77.8 L275.04,77.37 L275.99,76.92 L276.94,76.45 L277.89,75.96 L278.84,75.47 L279.79,74.95 L280.74,74.44 L281.69,73.91 L282.65,73.38 L283.6,72.86 L284.55,72.33 L285.5,71.82 L286.45,71.31 L287.4,70.82 L288.35,70.34 L289.3,69.89 L290.25,69.46 L291.2,69.05 L292.16,68.67 L293.11,68.33 L294.06,68.02 L295.01,67.75 L295.96,67.52 L296.91,67.33 L297.86,67.18 L298.81,67.08 L299.76,67.02 L300.71,67.01 L301.66,67.05 L302.62,67.13 L303.57,67.26 L304.52,67.43 L305.47,67.65 L306.42,67.91 L307.37,68.22 L308.32,68.56 L309.27,68.94 L310.22,69.35 L311.17,69.79 L312.13,70.27 L313.08,70.76 L314.03,71.28 L314.98,71.81 L315.93,72.36 L316.88,72.91 L317.83,73.47 L318.78,74.03 L319.73,74.58 L320.68,75.12 L321.64,75.66 L322.59,76.17 L323.54,76.67 L324.49,77.14 L325.44,77.58 L326.39,77.99 L327.34,78.37 L328.29,78.71 L329.24,79.01 L330.19,79.27 L331.14,79.48 L332.1,79.65 L333.05,79.78 L334,79.86 L334.95,79.89 L335.9,79.88 L336.85,79.82 L337.8,79.71 L338.75,79.56 L339.7,79.37 L340.65,79.13 L341.61,78.86 L342.56,78.55 L343.51,78.2 L344.46,77.82 L345.41,77.42 L346.36,76.98 L347.31,76.53 L348.26,76.05 L349.21,75.56 L350.16,75.05 L351.12,74.53 L352.07,74.01 L353.02,73.48 L353.97,72.95 L354.92,72.43 L355.87,71.91 L356.82,71.4 L357.77,70.9 L358.72,70.42 L359.67,69.95 L360.62,69.5 L361.58,69.08 L362.53,68.67 L363.48,68.29 L364.43,67.93 L365.38,67.6 L366.33,67.3 L367.28,67.02 L368.23,66.77 L369.18,66.56 L370.13,66.37 L371.09,66.21 L372.04,66.07 L372.99,65.97 L373.94,65.89 L374.89,65.84 L375.84,65.81 L376.79,65.81 L377.74,65.83 L378.69,65.88 L379.64,65.94 L380.59,66.02 L381.55,66.13 L382.5,66.25 L383.45,66.38 L384.4,66.53 L385.35,66.69 L386.3,66.86 L387.25,67.04 L388.2,67.23 L389.15,67.43 L390.1,67.63 L391.06,67.84 L392.01,68.05 L392.96,68.26 L393.91,68.48 L394.86,68.69 L395.81,68.9 L396.76,69.11 L397.71,69.32 L398.66,69.53 L399.61,69.73 L400.57,69.93 L401.52,70.12 L402.47,70.31 L403.42,70.49 L404.37,70.66 L405.32,70.83 L406.27,71 L407.22,71.15 L408.17,71.3 L409.12,71.45 L410.07,71.58 L411.03,71.71 L411.98,71.84 L412.93,71.95 L413.88,72.06 L414.83,72.17 L415.78,72.26 L416.73,72.36 L417.68,72.44 L418.63,72.52 L419.58,72.6 L420.54,72.67 L421.49,72.74 L422.44,72.8 L423.39,72.85 L424.34,72.91 L425.29,72.96 L426.24,73 L427.19,73.04 L428.14,73.08 L429.09,73.12 L430.05,73.15 L431,73.18 L431.95,73.2 L432.9,73.23 L433.85,73.25 L434.8,73.27 L434.8,73.45 L188.5,73.45 Z" fill="#a0a0a0" fill-opacity="0.42" stroke="#8c8c8c" stroke-opacity="0.8" stroke-width="0.9"/>
<path d="M196,48.17 L196.93,48.14 L197.86,48.11 L198.79,48.07 L199.73,48.03 L200.66,47.99 L201.59,47.94 L202.52,47.89 L203.45,47.83 L204.38,47.77 L205.31,47.71 L206.24,47.63 L207.18,47.56 L208.11,47.48 L209.04,47.39 L209.97,47.29 L210.9,47.19 L211.83,47.08 L212.76,46.97 L213.69,46.84 L214.63,46.71 L215.56,46.58 L216.49,46.43 L217.42,46.28 L218.35,46.12 L219.28,45.95 L220.21,45.77 L221.14,45.59 L222.08,45.39 L223.01,45.19 L223.94,44.99 L224.87,44.77 L225.8,44.55 L226.73,44.33 L227.66,44.1 L228.59,43.86 L229.53,43.62 L230.46,43.38 L231.39,43.13 L232.32,42.89 L233.25,42.64 L234.18,42.4 L235.11,42.15 L236.04,41.92 L236.98,41.68 L237.91,41.46 L238.84,41.24 L239.77,41.03 L240.7,40.84 L241.63,40.65 L242.56,40.49 L243.49,40.34 L244.43,40.21 L245.36,40.1 L246.29,40.01 L247.22,39.95 L248.15,39.92 L249.08,39.91 L250.01,39.93 L250.95,39.98 L251.88,40.06 L252.81,40.18 L253.74,40.32 L254.67,40.51 L255.6,40.73 L256.53,40.98 L257.46,41.27 L258.4,41.59 L259.33,41.94 L260.26,42.33 L261.19,42.76 L262.12,43.21 L263.05,43.69 L263.98,44.2 L264.91,44.73 L265.85,45.29 L266.78,45.86 L267.71,46.45 L268.64,47.05 L269.57,47.66 L270.5,48.28 L271.43,48.9 L272.36,49.51 L273.3,50.12 L274.23,50.72 L275.16,51.3 L276.09,51.86 L277.02,52.39 L277.95,52.9 L278.88,53.37 L279.81,53.8 L280.75,54.19 L281.68,54.54 L282.61,54.84 L283.54,55.09 L284.47,55.29 L285.4,55.43 L286.33,55.51 L287.26,55.53 L288.2,55.5 L289.13,55.4 L290.06,55.25 L290.99,55.04 L291.92,54.77 L292.85,54.44 L293.78,54.06 L294.72,53.64 L295.65,53.16 L296.58,52.65 L297.51,52.09 L298.44,51.51 L299.37,50.89 L300.3,50.26 L301.23,49.6 L302.17,48.94 L303.1,48.27 L304.03,47.6 L304.96,46.95 L305.89,46.3 L306.82,45.68 L307.75,45.08 L308.68,44.51 L309.62,43.98 L310.55,43.5 L311.48,43.06 L312.41,42.67 L313.34,42.34 L314.27,42.06 L315.2,41.85 L316.13,41.7 L317.07,41.62 L318,41.6 L318.93,41.64 L319.86,41.76 L320.79,41.93 L321.72,42.17 L322.65,42.47 L323.58,42.83 L324.52,43.24 L325.45,43.7 L326.38,44.2 L327.31,44.75 L328.24,45.33 L329.17,45.94 L330.1,46.57 L331.03,47.22 L331.97,47.89 L332.9,48.55 L333.83,49.22 L334.76,49.88 L335.69,50.53 L336.62,51.16 L337.55,51.76 L338.48,52.33 L339.42,52.87 L340.35,53.37 L341.28,53.82 L342.21,54.23 L343.14,54.58 L344.07,54.89 L345,55.13 L345.94,55.32 L346.87,55.45 L347.8,55.52 L348.73,55.53 L349.66,55.48 L350.59,55.37 L351.52,55.21 L352.45,54.99 L353.39,54.72 L354.32,54.4 L355.25,54.03 L356.18,53.62 L357.11,53.17 L358.04,52.69 L358.97,52.17 L359.9,51.62 L360.84,51.05 L361.77,50.47 L362.7,49.87 L363.63,49.26 L364.56,48.64 L365.49,48.02 L366.42,47.41 L367.35,46.8 L368.29,46.2 L369.22,45.62 L370.15,45.05 L371.08,44.5 L372.01,43.98 L372.94,43.48 L373.87,43.01 L374.8,42.57 L375.74,42.17 L376.67,41.79 L377.6,41.45 L378.53,41.14 L379.46,40.87 L380.39,40.63 L381.32,40.43 L382.25,40.26 L383.19,40.12 L384.12,40.02 L385.05,39.95 L385.98,39.91 L386.91,39.91 L387.84,39.93 L388.77,39.97 L389.71,40.05 L390.64,40.14 L391.57,40.26 L392.5,40.4 L393.43,40.56 L394.36,40.73 L395.29,40.92 L396.22,41.12 L397.16,41.33 L398.09,41.55 L399.02,41.78 L399.95,42.02 L400.88,42.26 L401.81,42.5 L402.74,42.74 L403.67,42.99 L404.61,43.24 L405.54,43.48 L406.47,43.72 L407.4,43.96 L408.33,44.2 L409.26,44.42 L410.19,44.65 L411.12,44.87 L412.06,45.08 L412.99,45.28 L413.92,45.48 L414.85,45.67 L415.78,45.85 L416.71,46.02 L417.64,46.19 L418.57,46.34 L419.51,46.49 L420.44,46.64 L421.37,46.77 L422.3,46.9 L423.23,47.02 L424.16,47.13 L425.09,47.23 L426.02,47.33 L426.96,47.42 L427.89,47.51 L428.82,47.59 L429.75,47.67 L430.68,47.73 L431.61,47.8 L432.54,47.86 L433.47,47.91 L434.41,47.96 L435.34,48.01 L436.27,48.05 L437.2,48.09 L437.2,48.45 L196,48.45 Z" fill="#a0a0a0" fill-opacity="0.42" stroke="#8c8c8c" stroke-opacity="0.8" stroke-width="0.9"/>
<g opacity="0.96">
<line x1="256.4" y1="421" x2="256.4" y2="126" stroke="#0c0cf6" stroke-width="3"/>
<path d="M249.8,137.1 L256.4,124.6 L263,137.1" fill="none" stroke="#0c0cf6" stroke-width="2.7" stroke-linejoin="round" stroke-linecap="round"/>
</g>
<g opacity="0.7">
<line x1="297.9" y1="156.4" x2="297.9" y2="401.1" stroke="#ff1b1f" stroke-width="2.6"/>
<path d="M291.5,389.7 L297.9,402.1 L304.3,389.7" fill="none" stroke="#ff1b1f" stroke-width="2.6" stroke-linejoin="round" stroke-linecap="round"/>
</g>
<g opacity="0.9">
<line x1="317.9" y1="160.1" x2="317.9" y2="380.3" stroke="#f4b604" stroke-width="2.6"/>
<path d="M311.5,368.9 L317.9,381.3 L324.3,368.9" fill="none" stroke="#f4b604" stroke-width="2.6" stroke-linejoin="round" stroke-linecap="round"/>
</g>
<g opacity="0.7">
<line x1="339.8" y1="155.4" x2="339.8" y2="352.1" stroke="#7337c0" stroke-width="2.6"/>
<path d="M333.4,340.7 L339.8,353.1 L346.2,340.7" fill="none" stroke="#7337c0" stroke-width="2.6" stroke-linejoin="round" stroke-linecap="round"/>
</g>
<g opacity="0.7">
<line x1="358.9" y1="143" x2="358.9" y2="318.2" stroke="#68b04f" stroke-width="2.6"/>
<path d="M352.5,306.8 L358.9,319.2 L365.3,306.8" fill="none" stroke="#68b04f" stroke-width="2.6" stroke-linejoin="round" stroke-linecap="round"/>
</g>
<g opacity="0.7">
<line x1="378.1" y1="123.7" x2="378.1" y2="276.1" stroke="#f17e32" stroke-width="2.6" stroke-dasharray="7.6 2.77" stroke-dashoffset="0.3"/>
<path d="M371.7,264.7 L378.1,277.1 L384.5,264.7" fill="none" stroke="#f17e32" stroke-width="2.6" stroke-linejoin="round" stroke-linecap="round"/>
</g>
<g opacity="0.7">
<line x1="398.7" y1="98.7" x2="398.7" y2="225.7" stroke="#7337c0" stroke-width="2.6" stroke-dasharray="7.6 2.77" stroke-dashoffset="-0.7"/>
<path d="M392.3,214.3 L398.7,226.7 L405.1,214.3" fill="none" stroke="#7337c0" stroke-width="2.6" stroke-linejoin="round" stroke-linecap="round"/>
</g>
<circle cx="297.9" cy="152.8" r="3.85" fill="#ff1b1f" fill-opacity="0.7"/>
<circle cx="317.9" cy="156.5" r="3.85" fill="#f4b604" fill-opacity="0.9"/>
<circle cx="339.8" cy="151.8" r="3.85" fill="#7337c0" fill-opacity="0.7"/>
<circle cx="358.9" cy="139.4" r="3.85" fill="#68b04f" fill-opacity="0.7"/>
<circle cx="378.1" cy="123.7" r="3.85" fill="#f17e32" fill-opacity="0.7"/>
<circle cx="398.7" cy="98.7" r="3.85" fill="#7337c0" fill-opacity="0.7"/>
<circle cx="256.4" cy="421.2" r="3.8" fill="#0a0af5"/>
<path d="M372.6,120.6 Q373.1,99.6 392.3,99.6" fill="none" stroke="#ff1a1a" stroke-width="1.5" stroke-dasharray="3.6 1.9"/>
<path d="M384.5,95.8 L392.3,99.6 L384.9,104" fill="none" stroke="#ff1a1a" stroke-width="1.6"/>
<path d="M390.9,96.3 Q391.4,74.4 409.5,74.4" fill="none" stroke="#ff1a1a" stroke-width="1.5" stroke-dasharray="3.6 1.9"/>
<path d="M401.7,70.6 L409.5,74.4 L402.1,78.8" fill="none" stroke="#ff1a1a" stroke-width="1.6"/>
<path d="M406.9,71.3 Q407.4,49.2 425.9,49.2" fill="none" stroke="#ff1a1a" stroke-width="1.5" stroke-dasharray="3.6 1.9"/>
<path d="M418.1,45.4 L425.9,49.2 L418.5,53.6" fill="none" stroke="#ff1a1a" stroke-width="1.6"/>
<line x1="262" y1="436.4" x2="312" y2="436.4" stroke="#9a9a9a" stroke-width="1.3"/>
<path d="M256.8,436.4 L267.3,430.8 L262.6,436.4 L267.3,442 Z" fill="#8a8a8a"/>
<path d="M316.9,436.4 L306.4,430.8 L311.1,436.4 L306.4,442 Z" fill="#8a8a8a"/>
<line x1="60" y1="455.8" x2="60" y2="16" stroke="#000" stroke-width="1.8"/>
<path d="M60,10 L65.5,20.6 L60,17 L54.5,20.6 Z" fill="#000"/>
<line x1="59.2" y1="456.8" x2="465" y2="456.8" stroke="#000" stroke-width="1.8"/>
<path d="M470.4,456.7 L460.2,451.3 L463.7,456.7 L460.2,462.1 Z" fill="#000"/>
<path d="M465.2,320.5 C465.28,321.12 465.38,322.35 465.7,324.2 C466.02,326.05 466.48,329.15 467.1,331.6 C467.72,334.05 468.57,336.6 469.4,338.9 C470.23,341.2 471.18,343.4 472.1,345.4 C473.02,347.4 473.98,349.22 474.9,350.9 C475.82,352.58 476.92,354.2 477.6,355.5 C478.28,356.8 478.62,357.4 479,358.7 C479.38,360 479.43,362.08 479.9,363.3 C480.37,364.52 480.87,365.08 481.8,366 C482.73,366.92 484.68,367.87 485.5,368.8 C486.32,369.73 486.87,370.68 486.7,371.6 C486.53,372.52 485.32,373.38 484.5,374.3 C483.68,375.22 481.72,376.33 481.8,377.1 C481.88,377.87 483.55,378.22 485,378.9 C486.45,379.58 489.2,380.62 490.5,381.2 C491.8,381.78 492.95,381.93 492.8,382.4 C492.65,382.87 491.67,383.53 489.6,384 C487.53,384.47 483.17,384.75 480.4,385.2 C477.63,385.65 473.92,386.13 473,386.7 C472.08,387.27 472.9,387.9 474.9,388.6 C476.9,389.3 481.32,390.28 485,390.9 C488.68,391.52 494.17,392 497,392.3 C499.83,392.6 502,392.48 502,392.7 C502,392.92 499.83,393.32 497,393.6 C494.17,393.88 489.3,394.08 485,394.4 C480.7,394.72 474.42,395.17 471.2,395.5 C467.98,395.83 466.62,396.25 465.7,396.4 L464.5,396.6 L464.5,320.5 Z" fill="#dccb5c" stroke="#9a8a2e" stroke-width="0.9" stroke-linejoin="round"/>
<line x1="465" y1="402.3" x2="531.5" y2="402.3" stroke="#7f7634" stroke-width="1.2"/>
<path d="M465,401 C468,401.7 472,402 479,402.1 L479,402.5 C472,402.7 468,403.5 465,404.9 Z" fill="#d8c756" stroke="#a09032" stroke-width="0.6"/>
<line x1="464.8" y1="430.8" x2="464.8" y2="88" stroke="#868686" stroke-width="1.8"/>
<path d="M464.6,81.2 L470.1,92 L464.6,88.5 L459.1,92 Z" fill="#868686"/>
<line x1="463.8" y1="429.9" x2="579" y2="429.9" stroke="#868686" stroke-width="2"/>
<path d="M584.6,429.9 L574.3,424.9 L577.4,429.9 L574.3,435.3 Z" fill="#868686"/>
<line x1="519.8" y1="189" x2="473.81" y2="232.44" stroke="#333" stroke-width="0.95"/><path d="M469.3,236.7 L472.13,229.21 L476.94,234.3 Z" fill="#111"/>
<line x1="532.4" y1="305.8" x2="486.04" y2="348.97" stroke="#333" stroke-width="0.95"/><path d="M481.5,353.2 L484.38,345.73 L489.15,350.85 Z" fill="#111"/>
<text x="2.6" y="31.05" style="font-family:'Liberation Sans','Noto Sans CJK SC',sans-serif;font-size:19.41px;fill:#111;" textLength="38" lengthAdjust="spacingAndGlyphs">能量</text>
<text x="371.81" y="479.92" style="font-family:'Liberation Sans','Noto Sans CJK SC',sans-serif;font-size:18.41px;fill:#111;" textLength="74.29" lengthAdjust="spacingAndGlyphs">位形坐标</text>
<text x="175.9" y="24.9" style="font-family:'Liberation Sans','Noto Sans CJK SC',sans-serif;font-size:13.17px;fill:#111;" textLength="42.72" lengthAdjust="spacingAndGlyphs">激发态</text>
<text x="83.35" y="194.02" style="font-family:'Liberation Sans','Noto Sans CJK SC',sans-serif;font-size:13.02px;fill:#111;" textLength="28.52" lengthAdjust="spacingAndGlyphs">基态</text>
<text x="216.34" y="196.15" style="font-family:'Liberation Sans','Noto Sans CJK SC',sans-serif;font-size:16.3px;fill:#1414f0;" textLength="32.98" lengthAdjust="spacingAndGlyphs">吸收</text>
<text x="274.3" y="451.8" style="font-family:'Liberation Sans','Noto Sans CJK SC',sans-serif;font-size:16.9px;fill:#111;" textLength="23.4" lengthAdjust="spacingAndGlyphs">ΔQ</text>
<text x="468.95" y="86.7" style="font-family:'Liberation Sans','Noto Sans CJK SC',sans-serif;font-size:14.15px;fill:#111;font-style:italic" textLength="29.08" lengthAdjust="spacingAndGlyphs">波长</text>
<text x="495.51" y="448.64" style="font-family:'Liberation Sans','Noto Sans CJK SC',sans-serif;font-size:14.7px;fill:#111;font-style:italic" textLength="54.51" lengthAdjust="spacingAndGlyphs">荧光强度</text>
<text x="511.93" y="181.3" style="font-family:'Liberation Sans','Noto Sans CJK SC',sans-serif;font-size:15.05px;fill:#111;" textLength="49.78" lengthAdjust="spacingAndGlyphs">无荧光</text>
<text x="512.54" y="301.85" style="font-family:'Liberation Sans','Noto Sans CJK SC',sans-serif;font-size:15.5px;fill:#111;" textLength="65.08" lengthAdjust="spacingAndGlyphs">荧光边带</text>
<text x="531.58" y="408.12" style="font-family:'Liberation Sans','Noto Sans CJK SC',sans-serif;font-size:15.66px;fill:#111;" textLength="66" lengthAdjust="spacingAndGlyphs">零声子线</text>
<text x="394.5" y="399.26" style="font-family:'Liberation Sans','Noto Sans CJK SC',sans-serif;font-size:11.75px;fill:#111;" textLength="36.65" lengthAdjust="spacingAndGlyphs">声子数</text>
<text x="434.1" y="399.1" style="font-family:'Liberation Sans','Noto Sans CJK SC',sans-serif;font-size:12.3px;fill:#111;"><tspan style="font-style:italic">n</tspan>=0</text>
<text x="434.1" y="369.77" style="font-family:'Liberation Sans','Noto Sans CJK SC',sans-serif;font-size:12.3px;fill:#111;"><tspan style="font-style:italic">n</tspan>=1</text>
<text x="434.1" y="340.44" style="font-family:'Liberation Sans','Noto Sans CJK SC',sans-serif;font-size:12.3px;fill:#111;"><tspan style="font-style:italic">n</tspan>=2</text>
<text x="434.1" y="311.11" style="font-family:'Liberation Sans','Noto Sans CJK SC',sans-serif;font-size:12.3px;fill:#111;"><tspan style="font-style:italic">n</tspan>=3</text>
<text x="434.1" y="281.78" style="font-family:'Liberation Sans','Noto Sans CJK SC',sans-serif;font-size:12.3px;fill:#111;"><tspan style="font-style:italic">n</tspan>=4</text>
<text x="434.1" y="252.45" style="font-family:'Liberation Sans','Noto Sans CJK SC',sans-serif;font-size:12.3px;fill:#111;"><tspan style="font-style:italic">n</tspan>=5</text>
<text x="434.1" y="223.12" style="font-family:'Liberation Sans','Noto Sans CJK SC',sans-serif;font-size:12.3px;fill:#111;"><tspan style="font-style:italic">n</tspan>=6</text>
<circle cx="445.3" cy="189" r="1.05" fill="#111"/>
<circle cx="445.3" cy="194.6" r="1.05" fill="#111"/>
<circle cx="445.3" cy="200" r="1.05" fill="#111"/>
</svg>
</body></html>
